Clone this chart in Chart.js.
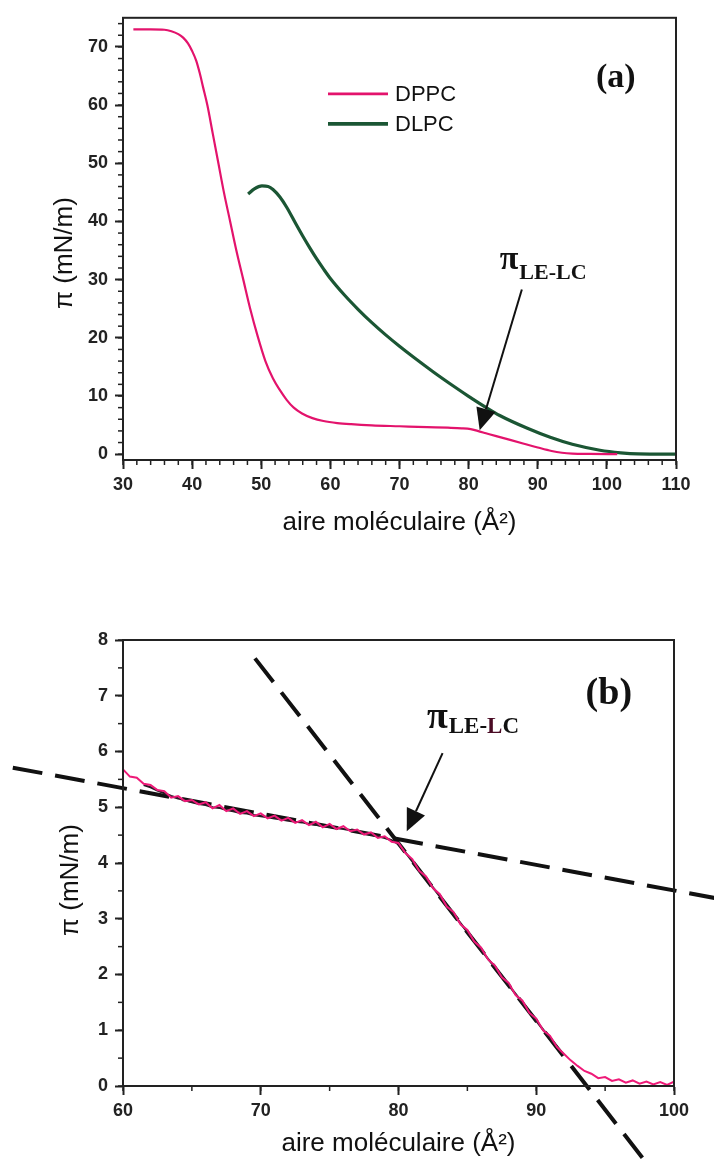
<!DOCTYPE html>
<html>
<head>
<meta charset="utf-8">
<script src="https://cdn.jsdelivr.net/npm/chart.js@4.4.1/dist/chart.umd.min.js"></script>
<style>
  body { margin: 0; background: #fff; }
  canvas { position: absolute; left: 0; }
</style>
</head>
<body>
<canvas id="chartA" width="714" height="565" style="top:0"></canvas>
<canvas id="chartB" width="714" height="598" style="top:565px"></canvas>
<script>
// (a) isotherms
const aDppcX = [31.5, 34, 36, 37, 38, 38.7, 39.4, 40.0, 40.6, 41.1, 41.6, 42.2, 43.0, 43.8, 44.6, 45.5, 46.4, 47.4, 48.4, 49.5, 50.6, 51.7, 52.7, 53.7, 54.7, 55.9, 57.4, 59, 61, 63, 66, 70, 74, 77, 79, 80.3, 81.3, 82.5, 84, 86, 88, 90, 92, 93.5, 95, 97.5, 101.5];
const aDppcY = [73.0, 73.0, 72.95, 72.7, 72.2, 71.6, 70.6, 69.3, 67.6, 65.5, 63.0, 60.0, 55.0, 50.0, 45.0, 40.0, 35.0, 30.0, 25.0, 20.2, 16.0, 13.0, 11.0, 9.3, 8.0, 7.0, 6.2, 5.7, 5.35, 5.15, 4.95, 4.8, 4.65, 4.55, 4.45, 4.3, 4.0, 3.6, 3.1, 2.45, 1.8, 1.15, 0.55, 0.25, 0.1, 0.04, 0.0];
const aDlpcX = [48.1, 49.0, 50.1, 51.0, 51.7, 52.7, 53.7, 55, 56, 57, 58, 59, 60, 62, 64, 66, 68, 70, 72, 75, 78, 80, 82.5, 84.5, 88.5, 91.8, 95, 99, 102, 104.5, 110];
const aDlpcY = [44.7, 45.6, 46.1, 46.0, 45.5, 44.2, 42.4, 39.6, 37.5, 35.5, 33.6, 31.85, 30.2, 27.4, 24.9, 22.6, 20.5, 18.55, 16.7, 14.05, 11.55, 9.95, 8.05, 6.65, 4.45, 2.9, 1.7, 0.68, 0.24, 0.05, 0.0];
const aXTicks = [30, 40, 50, 60, 70, 80, 90, 100, 110];
const aYTicks = [0, 10, 20, 30, 40, 50, 60, 70];

// (b) zoom on the LE-LC transition of DPPC
const bRawX = [60, 60.5, 61, 61.5, 62, 62.5, 63, 63.5, 64, 64.5, 65, 65.5, 66, 66.5, 67, 67.5, 68, 68.5, 69, 69.5, 70, 70.5, 71, 71.5, 72, 72.5, 73, 73.5, 74, 74.5, 75, 75.5, 76, 76.5, 77, 77.5, 78, 78.5, 79, 79.5, 80, 80.5, 81, 81.5, 82, 82.5, 83, 83.5, 84, 84.5, 85, 85.5, 86, 86.5, 87, 87.5, 88, 88.5, 89, 89.5, 90, 90.5, 91, 91.5, 92, 92.5, 93, 93.5, 94, 94.5, 95, 95.5, 96, 96.5, 97, 97.5, 98, 98.5, 99, 99.5, 100];
const bRawY = [5.68, 5.55, 5.53, 5.42, 5.40, 5.31, 5.29, 5.17, 5.20, 5.11, 5.13, 5.05, 5.09, 4.98, 5.04, 4.93, 4.98, 4.88, 4.93, 4.84, 4.89, 4.80, 4.85, 4.76, 4.81, 4.72, 4.77, 4.68, 4.74, 4.64, 4.70, 4.61, 4.66, 4.57, 4.60, 4.51, 4.55, 4.45, 4.48, 4.38, 4.36, 4.18, 4.07, 3.86, 3.76, 3.55, 3.44, 3.22, 3.12, 2.90, 2.80, 2.59, 2.48, 2.27, 2.16, 1.95, 1.85, 1.63, 1.53, 1.31, 1.21, 1.00, 0.90, 0.70, 0.58, 0.46, 0.36, 0.27, 0.22, 0.14, 0.16, 0.09, 0.12, 0.06, 0.10, 0.04, 0.08, 0.03, 0.07, 0.02, 0.08];
const bRunX = [61.5, 62, 62.5, 63, 63.5, 64, 64.5, 65, 65.5, 66, 66.5, 67, 67.5, 68, 68.5, 69, 69.5, 70, 70.5, 71, 71.5, 72, 72.5, 73, 73.5, 74, 74.5, 75, 75.5, 76, 76.5, 77, 77.5, 78, 78.5, 79, 79.5, 80, 80.5, 81, 81.5, 82, 82.5, 83, 83.5, 84, 84.5, 85, 85.5, 86, 86.5, 87, 87.5, 88, 88.5, 89, 89.5, 90, 90.5, 91, 91.5, 92];
const bRunY = [5.40, 5.36, 5.30, 5.25, 5.20, 5.16, 5.13, 5.09, 5.06, 5.04, 5.00, 4.99, 4.95, 4.93, 4.90, 4.89, 4.86, 4.84, 4.82, 4.80, 4.78, 4.76, 4.74, 4.73, 4.70, 4.69, 4.66, 4.65, 4.63, 4.61, 4.59, 4.57, 4.54, 4.51, 4.48, 4.45, 4.41, 4.34, 4.19, 4.03, 3.87, 3.72, 3.56, 3.40, 3.24, 3.08, 2.92, 2.76, 2.60, 2.44, 2.28, 2.13, 1.97, 1.81, 1.65, 1.49, 1.33, 1.17, 1.01, 0.86, 0.70, 0.56];
const bFitLeX = [52.0, 103.0];
const bFitLeY = [5.71, 3.37];
const bFitLcX = [69.58, 97.84];
const bFitLcY = [7.67, -1.33];
const bXTicks = [60, 70, 80, 90, 100];
const bYTicks = [0, 1, 2, 3, 4, 5, 6, 7, 8];

const SANS = '"Liberation Sans", Arial, sans-serif';
const SERIF = '"Liberation Serif", "Times New Roman", serif';
const INK = '#222';

function pts(xs, ys) {
    return xs.map((x, i) => ({ x: x, y: ys[i] }));
}

// small ticks between the labelled ones
const minorTicks = {
    id: 'minorTicks',
    afterDraw(chart, args, opts) {
        const ctx = chart.ctx;
        ctx.save();
        ctx.strokeStyle = INK;
        ctx.lineWidth = 1.5;
        ['x', 'y'].forEach((id) => {
            const s = chart.scales[id];
            const step = opts[id];
            const n0 = Math.ceil(s.min / step - 1e-9);
            const n1 = Math.floor(s.max / step + 1e-9);
            for (let n = n0; n <= n1; n++) {
                const p = s.getPixelForValue(n * step);
                ctx.beginPath();
                if (id === 'x') {
                    ctx.moveTo(p, s.top);
                    ctx.lineTo(p, s.top + opts.len);
                } else {
                    ctx.moveTo(s.right, p);
                    ctx.lineTo(s.right - opts.len, p);
                }
                ctx.stroke();
            }
        });
        ctx.restore();
    }
};

const frame = {
    id: 'frame',
    afterDraw(chart) {
        const { ctx, chartArea: a } = chart;
        ctx.save();
        ctx.strokeStyle = INK;
        ctx.lineWidth = 2;
        ctx.strokeRect(a.left, a.top, a.right - a.left, a.bottom - a.top);
        ctx.restore();
    }
};

// y title, panel letter, pi label, arrow and legend
const notes = {
    id: 'notes',
    afterDraw(chart, args, o) {
        const { ctx, chartArea: a } = chart;
        const x = chart.scales.x, y = chart.scales.y;
        ctx.save();
        ctx.fillStyle = '#111';
        ctx.strokeStyle = '#111';

        ctx.save();
        ctx.translate(o.yTitle[0], o.yTitle[1]);
        ctx.rotate(-Math.PI / 2);
        ctx.font = '26px ' + SANS;
        ctx.textAlign = 'center';
        ctx.textBaseline = 'middle';
        ctx.fillText('π (mN/m)', 0, 0);
        ctx.restore();

        ctx.font = `bold ${o.letterSize}px ${SERIF}`;
        ctx.textAlign = 'center';
        ctx.textBaseline = 'middle';
        ctx.fillText(o.letter, x.getPixelForValue(o.letterAt[0]), y.getPixelForValue(o.letterAt[1]));

        const px = x.getPixelForValue(o.piAt[0]);
        const py = y.getPixelForValue(o.piAt[1]);
        ctx.textAlign = 'left';
        ctx.textBaseline = 'alphabetic';
        ctx.font = `bold ${o.piSize}px ${SERIF}`;
        ctx.fillText('π', px, py);
        let sx = px + ctx.measureText('π').width + 1;
        ctx.font = `bold ${o.subSize}px ${SERIF}`;
        const sy = py + o.subDrop;
        ['LE-', 'L', 'C'].forEach((part, i) => {
            ctx.fillStyle = (i === 1 && o.tintL) ? '#4a0b24' : '#111';
            ctx.fillText(part, sx, sy);
            sx += ctx.measureText(part).width;
        });
        ctx.fillStyle = '#111';

        const ax = x.getPixelForValue(o.arrowFrom[0]), ay = y.getPixelForValue(o.arrowFrom[1]);
        const tx = x.getPixelForValue(o.arrowTo[0]), ty = y.getPixelForValue(o.arrowTo[1]);
        const ang = Math.atan2(ty - ay, tx - ax);
        const head = 22, half = 10;
        const bx = tx - head * Math.cos(ang), by = ty - head * Math.sin(ang);
        ctx.lineWidth = 2;
        ctx.beginPath();
        ctx.moveTo(ax, ay);
        ctx.lineTo(bx, by);
        ctx.stroke();
        ctx.beginPath();
        ctx.moveTo(tx, ty);
        ctx.lineTo(bx + half * Math.sin(ang), by - half * Math.cos(ang));
        ctx.lineTo(bx - half * Math.sin(ang), by + half * Math.cos(ang));
        ctx.closePath();
        ctx.fill();

        if (o.legend) {
            ctx.font = '22px ' + SANS;
            ctx.textBaseline = 'middle';
            chart.data.datasets.forEach((ds, i) => {
                const ly = a.top + o.legend[1] + i * 30;
                const lx = a.left + o.legend[0];
                ctx.strokeStyle = ds.borderColor;
                ctx.lineWidth = ds.borderWidth + 0.5;
                ctx.beginPath();
                ctx.moveTo(lx, ly);
                ctx.lineTo(lx + 60, ly);
                ctx.stroke();
                ctx.fillStyle = '#111';
                ctx.fillText(ds.label, lx + 67, ly + 1);
            });
        }
        ctx.restore();
    }
};

function axes(xr, yr, xTicks, yTicks, xH) {
    const tickFont = { family: SANS, size: 18, weight: 'bold' };
    return {
        x: {
            type: 'linear',
            min: xr[0],
            max: xr[1],
            afterBuildTicks: (s) => { s.ticks = xTicks.map((v) => ({ value: v })); },
            afterFit: (s) => { s.height = xH; },
            grid: { drawOnChartArea: false, tickLength: 9, tickWidth: 2, tickColor: INK },
            border: { color: INK, width: 2 },
            ticks: { autoSkip: false, maxRotation: 0, padding: 5, color: INK, font: tickFont },
            title: { display: true, text: 'aire moléculaire (Å²)', color: '#111', font: { family: SANS, size: 26 }, padding: 0 }
        },
        y: {
            type: 'linear',
            min: yr[0],
            max: yr[1],
            afterBuildTicks: (s) => { s.ticks = yTicks.map((v) => ({ value: v })); },
            afterFit: (s) => { s.width = 60; },
            grid: { drawOnChartArea: false, tickLength: 8, tickWidth: 2, tickColor: INK },
            border: { color: INK, width: 2 },
            ticks: { autoSkip: false, padding: 7, color: INK, font: tickFont }
        }
    };
}

new Chart(document.getElementById('chartA'), {
    type: 'line',
    data: {
        datasets: [
            { label: 'DPPC', data: pts(aDppcX, aDppcY), borderColor: '#e3136c', borderWidth: 2.2, pointRadius: 0, cubicInterpolationMode: 'monotone' },
            { label: 'DLPC', data: pts(aDlpcX, aDlpcY), borderColor: '#1b5634', borderWidth: 3.2, pointRadius: 0, cubicInterpolationMode: 'monotone' }
        ]
    },
    options: {
        responsive: false,
        animation: false,
        events: [],
        layout: { padding: { left: 63, right: 38, top: 15, bottom: 27 } },
        scales: axes([30, 110], [-1, 75], aXTicks, aYTicks, 78),
        plugins: {
            legend: { display: false },
            tooltip: { enabled: false },
            minorTicks: { x: 2, y: 2, len: 5 },
            notes: {
                yTitle: [65, 253],
                letter: '(a)', letterSize: 34, letterAt: [101.3, 64.7],
                piAt: [84.5, 31.9], piSize: 34, subSize: 22, subDrop: 10, tintL: false,
                arrowFrom: [87.7, 28.3], arrowTo: [81.6, 4.1],
                legend: [205, 76]
            }
        }
    },
    plugins: [minorTicks, frame, notes]
});

new Chart(document.getElementById('chartB'), {
    type: 'line',
    data: {
        datasets: [
            { label: 'raw', data: pts(bRawX, bRawY), borderColor: '#ee1a78', borderWidth: 2, pointRadius: 0 },
            { label: 'run', data: pts(bRunX, bRunY), borderColor: '#2b1a26', borderWidth: 2.2, pointRadius: 0 },
            { label: 'LE fit', data: pts(bFitLeX, bFitLeY), borderColor: '#111', borderWidth: 4, borderDash: [30, 13], pointRadius: 0, clip: false },
            { label: 'LC fit', data: pts(bFitLcX, bFitLcY), borderColor: '#111', borderWidth: 4, borderDash: [30, 13], pointRadius: 0, clip: false }
        ]
    },
    options: {
        responsive: false,
        animation: false,
        events: [],
        layout: { padding: { left: 63, right: 40, top: 75, bottom: 4 } },
        scales: axes([60, 100], [0, 8], bXTicks, bYTicks, 73),
        plugins: {
            legend: { display: false },
            tooltip: { enabled: false },
            minorTicks: { x: 5, y: 0.5, len: 5 },
            notes: {
                yTitle: [71, 315],
                letter: '(b)', letterSize: 38, letterAt: [95.27, 7.03],
                piAt: [82.06, 6.42], piSize: 38, subSize: 23, subDrop: 5, tintL: true,
                arrowFrom: [83.2, 5.97], arrowTo: [80.6, 4.57],
                legend: null
            }
        }
    },
    plugins: [minorTicks, frame, notes]
});
</script>
</body>
</html>
